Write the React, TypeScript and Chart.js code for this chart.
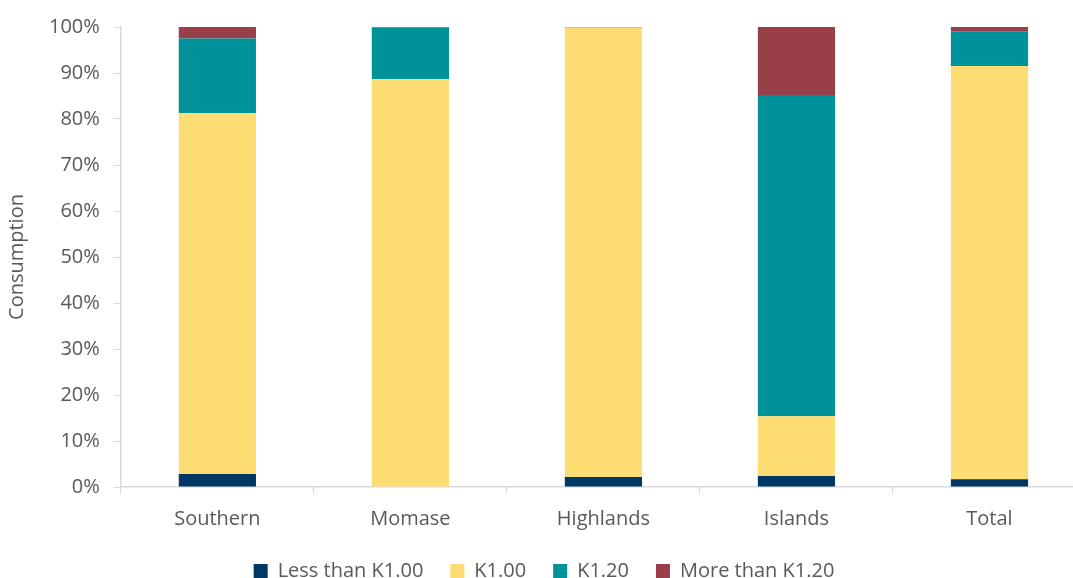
import React, { useEffect, useRef } from "react";
import { Chart, registerables } from "chart.js";

Chart.register(...registerables);

const categories = ["Southern", "Momase", "Highlands", "Islands", "Total"];
const lessThanK100 = [2.8, 0.1, 2.2, 2.4, 1.7];
const k100 = [78.5, 88.6, 97.7, 13.0, 89.8];
const k120 = [16.2, 11.2, 0.0, 69.8, 7.6];
const moreThanK120 = [2.5, 0.1, 0.1, 14.8, 0.9];
const yTicks = [0, 10, 20, 30, 40, 50, 60, 70, 80, 90, 100];

const FONT = "'Open Sans', 'Liberation Sans', sans-serif";

export default function App() {
  const ref = useRef<HTMLCanvasElement | null>(null);
  useEffect(() => {
    if (!ref.current) return;
    const ds = (label: string, data: number[], color: string) => ({
      label,
      data,
      backgroundColor: color,
      borderWidth: 0,
      barPercentage: 0.4,
      categoryPercentage: 1.0,
    });
    const chart = new Chart(ref.current, {
      type: "bar",
      data: {
        labels: categories,
        datasets: [
          ds("Less than K1.00", lessThanK100, "#003764"),
          ds("K1.00", k100, "#FDDD73"),
          ds("K1.20", k120, "#00929A"),
          ds("More than K1.20", moreThanK120, "#983F4A"),
        ],
      },
      options: {
        responsive: true,
        maintainAspectRatio: false,
        animation: false,
        layout: { padding: { left: 2, right: 0, top: 27, bottom: -13 } },
        plugins: {
          tooltip: { enabled: false },
          legend: {
            position: "bottom",
            labels: {
              boxWidth: 14,
              boxHeight: 14,
              padding: 27,
              color: "#595959",
              font: { family: FONT, size: 20 },
            },
          },
        },
        scales: {
          x: {
            stacked: true,
            afterFit: (axis: any) => {
              axis.height -= 10;
            },
            grid: {
              display: true,
              drawOnChartArea: false,
              drawTicks: true,
              tickLength: 7,
              offset: true,
              color: "#d9d9d9",
            },
            border: { color: "#d9d9d9", width: 1.5 },
            ticks: {
              color: "#595959",
              font: { family: FONT, size: 20 },
              padding: 13,
            },
          },
          y: {
            stacked: true,
            min: 0,
            max: 100,
            afterBuildTicks: (axis: any) => {
              axis.ticks = yTicks.map((v) => ({ value: v }));
            },
            grid: {
              display: true,
              drawOnChartArea: false,
              drawTicks: true,
              tickLength: 7,
              color: "#d9d9d9",
            },
            border: { color: "#d9d9d9", width: 1.5 },
            ticks: {
              color: "#595959",
              font: { family: FONT, size: 20 },
              padding: 14,
              callback: (v: any) => v + "%",
            },
            title: {
              display: true,
              text: "Consumption",
              color: "#595959",
              font: { family: FONT, size: 20 },
              padding: { top: 3, bottom: 6 },
            },
          },
        },
      },
    });
    return () => chart.destroy();
  }, []);
  return (
    <div style={{ position: "fixed", left: 0, top: 0, width: 1073, height: 578, background: "#fff", overflow: "hidden" }}>
      <div style={{ position: "absolute", left: 0, top: 0, width: 1086, height: 578 }}>
        <canvas ref={ref} />
      </div>
    </div>
  );
}
